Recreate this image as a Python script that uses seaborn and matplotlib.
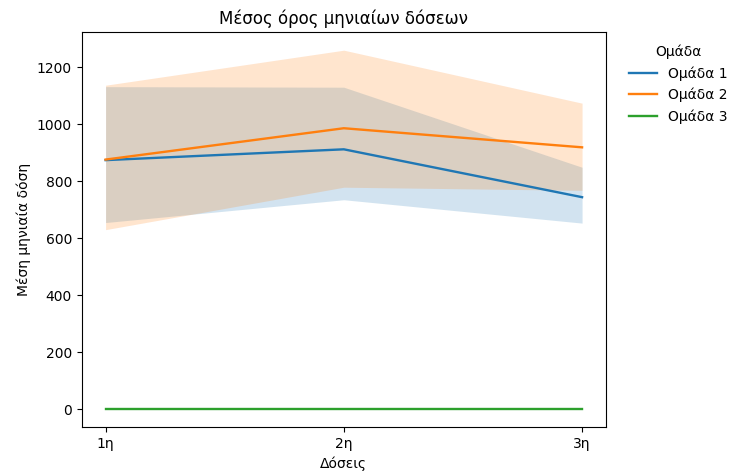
import matplotlib
matplotlib.use("Agg")
import matplotlib.pyplot as plt
import seaborn as sns
import pandas as pd

doses = ["1η", "2η", "3η"]
groups = ["Ομάδα 1", "Ομάδα 2", "Ομάδα 3"]

mean_g1 = [874, 912, 744]
mean_g2 = [876, 986, 919]
mean_g3 = [0, 0, 0]

low_g1 = [655, 735, 653]
high_g1 = [1132, 1130, 849]
low_g2 = [630, 779, 768]
high_g2 = [1137, 1260, 1074]
low_g3 = [0, 0, 0]
high_g3 = [0, 0, 0]

means = [mean_g1, mean_g2, mean_g3]
lows = [low_g1, low_g2, low_g3]
highs = [high_g1, high_g2, high_g3]

rows = []
for g, m, lo, hi in zip(groups, means, lows, highs):
    for i, d in enumerate(doses):
        rows.append({"Δόσεις": d, "pos": i, "Ομάδα": g,
                     "mean": m[i], "low": lo[i], "high": hi[i]})
df = pd.DataFrame(rows)

fig = plt.figure(figsize=(7.3, 4.74), dpi=100)
ax = fig.add_axes([0.112, 0.099, 0.718, 0.833])

palette = sns.color_palette("tab10", 3)
sns.lineplot(data=df, x="pos", y="mean", hue="Ομάδα", palette=palette,
             errorbar=None, ax=ax, linewidth=1.7)

# shaded interval around each group's mean
for g, c in zip(groups, palette):
    sub = df[df["Ομάδα"] == g]
    ax.fill_between(sub["pos"], sub["low"], sub["high"], color=c,
                    alpha=0.2, linewidth=0)

ax.set_xticks(range(len(doses)))
ax.set_xticklabels(doses)
ax.set_xlabel("Δόσεις")
ax.set_ylabel("Μέση μηνιαία δόση")
ax.set_title("Μέσος όρος μηνιαίων δόσεων")

ax.legend(title="Ομάδα", loc="upper left", bbox_to_anchor=(1.02, 1.0),
          frameon=False)

fig.savefig("out.png", dpi=100)
